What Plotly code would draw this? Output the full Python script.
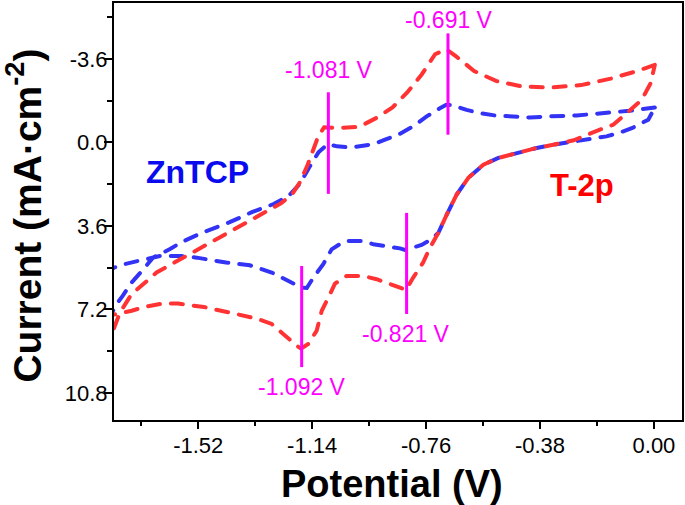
import plotly.graph_objects as go

# ---------------- data ----------------
# T-2p cyclic voltammogram (potential V, current mA/cm2); y axis drawn reversed
t2p_potential = [0.003, -0.063, -0.144, -0.243, -0.342, -0.44, -0.527, -0.60, -0.662, -0.693,
                 -0.73, -0.774, -0.823, -0.872, -0.922, -0.983, -1.057, -1.10, -1.119, -1.138,
                 -1.156, -1.181, -1.206, -1.243, -1.33, -1.43, -1.525, -1.575, -1.614, -1.659,
                 -1.703, -1.742, -1.781, -1.798, -1.83, -1.85, -1.81,
                 -1.80, -1.742, -1.698, -1.642, -1.587, -1.501, -1.403, -1.320, -1.275, -1.225,
                 -1.192, -1.177, -1.153, -1.125, -1.108, -1.086, -1.064, -1.025, -0.970, -0.925,
                 -0.881, -0.836, -0.827, -0.803, -0.770, -0.747, -0.719, -0.691, -0.658, -0.619,
                 -0.569, -0.519, -0.458, -0.391, -0.336, -0.268, -0.18, -0.136, -0.091, -0.041,
                 -0.011, 0.003]
t2p_current = [-3.34, -3.05, -2.75, -2.47, -2.37, -2.41, -2.65, -3.08, -3.73, -4.02,
               -3.80, -2.94, -2.15, -1.51, -1.08, -0.67, -0.62, -0.65, -0.29, 0.43,
               1.00, 1.72, 2.22, 2.62, 3.25, 3.95, 4.68, 5.00, 5.28, 5.61,
               6.11, 6.54, 7.33, 7.90, 9.0, 8.2, 7.45,
               7.42, 7.26, 7.09, 6.95, 6.95, 7.10, 7.37, 7.62, 7.83, 8.41,
               8.76, 8.89, 8.69, 8.12, 7.26, 6.69, 6.09, 5.76, 5.76, 5.90,
               6.11, 6.30, 6.36, 5.83, 5.18, 4.54, 3.90, 3.11, 2.25, 1.53,
               0.96, 0.67, 0.46, 0.24, 0.10, -0.09, -0.55, -0.76, -1.26, -1.83,
               -2.55, -3.34]

# ZnTCP cyclic voltammogram
zntcp_potential = [0.003, -0.053, -0.083, -0.206, -0.258, -0.353, -0.414, -0.469, -0.530, -0.580,
                   -0.625, -0.675, -0.694, -0.714, -0.758, -0.803, -0.853, -0.897, -0.934, -1.008,
                   -1.057, -1.088, -1.119, -1.15, -1.181, -1.218, -1.267, -1.341, -1.415, -1.502,
                   -1.576, -1.614, -1.671, -1.703, -1.742, -1.772, -1.792, -1.83, -1.85, -1.81,
                   -1.80, -1.776, -1.720, -1.648, -1.575, -1.525, -1.427, -1.348, -1.275, -1.231,
                   -1.192, -1.174, -1.158, -1.136, -1.103, -1.075, -1.031, -0.975, -0.936, -0.892,
                   -0.847, -0.831, -0.804, -0.775, -0.745, -0.719, -0.691, -0.658, -0.619, -0.569,
                   -0.519, -0.458, -0.391, -0.336, -0.258, -0.213, -0.158, -0.119, -0.074, -0.019,
                   0.003]
zntcp_current = [-1.50, -1.40, -1.36, -1.22, -1.16, -1.12, -1.07, -1.12, -1.16, -1.26,
                 -1.40, -1.62, -1.61, -1.47, -1.12, -0.69, -0.33, -0.12, 0.07, 0.22,
                 0.17, 0.07, 0.43, 1.08, 1.79, 2.30, 2.65, 3.01, 3.44, 3.87,
                 4.30, 4.60, 4.97, 5.47, 6.04, 6.62, 6.96, 7.9, 7.0, 5.45,
                 5.40, 5.28, 5.11, 4.90, 4.90, 4.97, 5.18, 5.30, 5.61, 5.90,
                 6.19, 6.27, 6.28, 5.83, 5.25, 4.61, 4.25, 4.25, 4.39, 4.47,
                 4.57, 4.64, 4.54, 4.42, 4.20, 3.90, 3.11, 2.25, 1.53, 0.96,
                 0.67, 0.46, 0.24, 0.10, -0.04, -0.12, -0.26, -0.40, -0.61, -0.98,
                 -1.50]

# peak markers: potential where the bar is drawn, bar extent, label and label place
peak_x = [-1.086, -0.687, -0.825, -1.175]
peak_y_from = [-2.16, -4.70, 3.04, 5.33]
peak_y_to = [2.22, -0.33, 7.40, 9.69]
peak_labels = ["-1.081 V", "-0.691 V", "-0.821 V", "-1.092 V"]
peak_label_x = [-1.084, -0.684, -0.826, -1.175]
peak_label_y = [-3.13, -5.28, 8.25, 10.55]

x_tickvals = [-1.52, -1.14, -0.76, -0.38, 0.00]
x_ticktext = ["-1.52", "-1.14", "-0.76", "-0.38", "0.00"]
x_minor = [-1.71, -1.33, -0.95, -0.57, -0.19]
y_tickvals = [-3.6, 0.0, 3.6, 7.2, 10.8]
y_ticktext = ["-3.6", "0.0", "3.6", "7.2", "10.8"]
y_minor = [-5.4, -1.8, 1.8, 5.4, 9.0]

# ---------------- figure ----------------
FONT = "Liberation Sans, Arial, Helvetica, sans-serif"
RED = "#ff3333"
BLUE = "#3333f5"
MAGENTA = "#ff00ff"

fig = go.Figure()
fig.add_trace(go.Scatter(x=zntcp_potential, y=zntcp_current, mode="lines",
                         line=dict(color=BLUE, width=4, dash="12px,11px"), name="ZnTCP"))
fig.add_trace(go.Scatter(x=t2p_potential, y=t2p_current, mode="lines",
                         line=dict(color=RED, width=4, dash="12px,11px"), name="T-2p"))

for px, y0, y1 in zip(peak_x, peak_y_from, peak_y_to):
    fig.add_shape(type="line", xref="x", yref="y", x0=px, x1=px, y0=y0, y1=y1,
                  line=dict(color=MAGENTA, width=3))

annotations = []
for lx, ly, txt in zip(peak_label_x, peak_label_y, peak_labels):
    annotations.append(dict(x=lx, y=ly, xref="x", yref="y", text=txt, showarrow=False,
                            font=dict(family=FONT, size=23, color=MAGENTA),
                            xanchor="center", yanchor="middle"))
annotations.append(dict(x=-1.521, y=1.29, xref="x", yref="y", text="<b>ZnTCP</b>",
                        showarrow=False, font=dict(family=FONT, size=32, color="#0a0aef"),
                        xanchor="center", yanchor="middle"))
annotations.append(dict(x=-0.240, y=1.85, xref="x", yref="y", text="<b>T-2p</b>",
                        showarrow=False, font=dict(family=FONT, size=31, color="#ff0000"),
                        xanchor="center", yanchor="middle"))
# axis titles
annotations.append(dict(x=0.4894, y=-0.153, xref="paper", yref="paper",
                        text="<b>Potential (V)</b>", showarrow=False,
                        font=dict(family=FONT, size=38, color="black"),
                        xanchor="center", yanchor="middle"))
annotations.append(dict(x=-0.1593, y=0.489, xref="paper", yref="paper",
                        text="<b>Current (mA·cm<sup>-2</sup>)</b>", showarrow=False,
                        textangle=-90, font=dict(family=FONT, size=39, color="black"),
                        xanchor="center", yanchor="middle"))

fig.update_layout(
    width=685, height=505,
    margin=dict(l=114, r=3, t=1, b=85),
    paper_bgcolor="white", plot_bgcolor="white",
    showlegend=False,
    font=dict(family=FONT, size=22, color="black"),
    annotations=annotations,
)
fig.update_xaxes(range=[-1.801, 0.0936], autorange=False,
                 tickmode="array", tickvals=x_tickvals, ticktext=x_ticktext,
                 ticks="outside", ticklen=7, tickwidth=2, tickcolor="black",
                 ticklabelstandoff=-2,
                 showline=True, linecolor="black", linewidth=2, mirror=True,
                 showgrid=False, zeroline=False,
                 tickfont=dict(family=FONT, size=22, color="black"),
                 minor=dict(tickmode="array", tickvals=x_minor, ticks="outside",
                            ticklen=4, tickwidth=2, tickcolor="black", showgrid=False))
fig.update_yaxes(range=[11.97, -6.01], autorange=False,
                 tickmode="array", tickvals=y_tickvals, ticktext=y_ticktext,
                 ticks="outside", ticklen=8, tickwidth=2, tickcolor="black",
                 ticklabelstandoff=-8,
                 showline=True, linecolor="black", linewidth=2, mirror=True,
                 showgrid=False, zeroline=False,
                 tickfont=dict(family=FONT, size=22, color="black"),
                 minor=dict(tickmode="array", tickvals=y_minor, ticks="outside",
                            ticklen=5, tickwidth=2, tickcolor="black", showgrid=False))

fig.write_html(
    "out.html",
    config={"displayModeBar": False},
    post_script=(
        "document.body.style.margin='0';document.body.style.padding='0';"
        "document.querySelectorAll('.scatterlayer path.js-line').forEach("
        "function(p){p.style.strokeLinecap='round';});"
    ),
)
